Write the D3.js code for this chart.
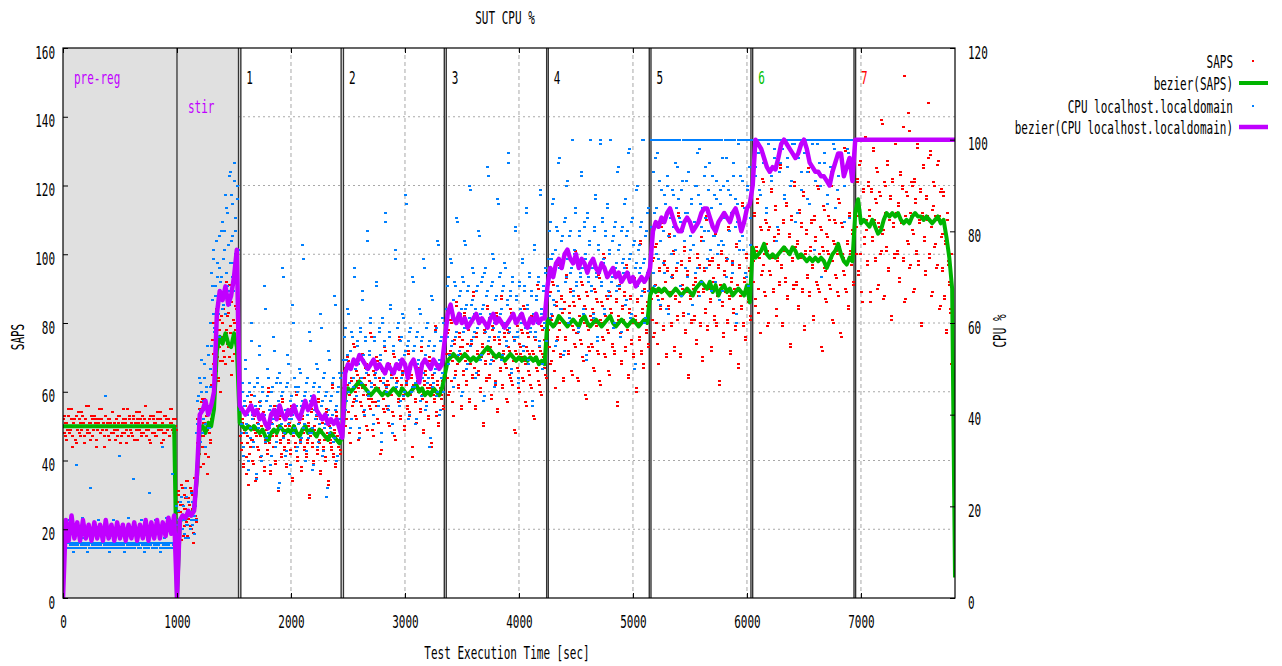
<!DOCTYPE html>
<html><head><meta charset="utf-8">
<script src="https://cdn.jsdelivr.net/npm/d3@7"></script>
<style>
body{margin:0;background:#fff;}
svg text{font-family:"DejaVu Sans Mono",monospace;font-size:11px;}
</style></head><body>
<svg id="chart" width="1282" height="666"></svg>
<script>
// ---------- DATA ----------
const chartTitle = "SUT CPU %";
const xTicks = [0,1000,2000,3000,4000,5000,6000,7000];
const sapsTicks = [0,20,40,60,80,100,120,140,160];
const cpuTicks = [0,20,40,60,80,100,120];
const legendLabels = ["SAPS","bezier(SAPS)","CPU localhost.localdomain","bezier(CPU localhost.localdomain)"];
const phaseNames = ["pre-reg","stir","1","2","3","4","5","6","7"];
const phaseSpan = [[0,1000],[1000,1540],[1560,2440],[2460,3345],[3362,4243],[4257,5143],[5158,6035],[6050,6939],[6953,7800]];
const shadedPhases = [[0,1540]];
const phaseLines = [1540,1560,2440,2460,3345,3362,4243,4257,5143,5158,6035,6050,6939,6953];
const bezierStart = [0,1000,1550,2475,3375,4250,5150,6050,6950];
const bezierStep = 25;
const bezierSaps = [
 [50,50,50,50,50,50,50,50,50,50,50,50,50,50,50,50,50,50,50,50,50,50,50,50,50,50,50,50,50,50,50,50,50,50,50,50,50,50,50,50],
 [0,22,24,23,25,24,26,35,49,50,48,51,50,55,72,76,74,77,74,73,77,73],
 [51,50,49,50,49,50,49,48,49,47,46,48,49,48,50,49,48,49,48,50,48,47,49,50,48,49,48,47,49,48,47,46,48,47,46,45,47],
 [59,61,60,61,62,63,62,61,60,59,60,61,60,59,60,59,60,61,60,59,61,60,59,60,61,62,60,61,59,60,59,61,60,59,61],
 [69,70,71,70,69,70,71,70,69,70,69,70,71,72,73,72,71,70,71,70,69,70,71,70,69,70,69,70,69,70,69,70,68,69,68],
 [81,80,79,80,82,81,80,79,80,81,80,79,81,82,80,79,80,81,80,79,80,81,82,80,79,80,81,80,79,80,81,80,79,80,81,80],
 [88,90,89,90,89,90,89,88,89,90,89,88,89,90,89,88,90,91,92,91,90,92,89,91,88,90,91,89,90,88,89,90,89,88,91,86],
 [102,99,100,101,103,100,99,100,99,100,101,102,101,100,102,101,99,100,99,98,99,98,99,98,99,98,96,98,100,101,103,100,98,97,99,98],
 [112,116,109,110,109,108,110,108,106,107,110,112,111,112,111,112,110,109,110,109,111,112,111,111,110,111,110,109,110,111,109,110,105,99,90,6]
];
const bezierCpu = [
 [0,17,12.5,18,13,16.5,12.5,17,13,16,12.5,16.5,13,16,12.5,17,13,16,12.5,16.5,13,16,12.5,16,13,16.5,12.5,16,13,17,12.5,16.5,13,17,13,16.5,13.5,17.5,14,18],
 [0,17,18,17.5,19,18,19,27,40,41,43,40,42,45,62,67,65,68,64,66,70,76],
 [42,41,40,41,42,40,41,39,40,38,37,40,41,39,42,40,39,41,40,42,40,39,41,43,41,42,44,41,40,39,40,38,39,38,39,37,35],
 [49,51,50,52,51,53,52,51,50,51,52,50,51,50,49,51,50,49,51,50,52,51,48,51,52,50,47,51,52,51,50,52,51,50,51],
 [62,64,61,60,62,60,61,59,60,61,62,60,61,60,59,61,62,60,61,60,59,60,61,62,60,61,62,60,59,61,60,62,60,61,61],
 [68,72,70,73,74,72,75,76,74,73,75,72,74,73,71,73,74,72,71,73,72,70,71,72,70,71,69,70,71,69,70,68,69,70,69,70],
 [72,80,82,81,83,82,84,85,83,81,80,80,82,83,82,80,81,82,84,85,85,83,81,80,82,83,84,83,82,84,85,83,80,82,85,86],
 [90,100,99,98,96,94,93,94,93.5,96,99,100,99,98,97,96,97,99,100,98,95,94,93,93,92,92,91,90,93,95,97,97,92,94,96,91],
 [100,100,100,100,100,100,100,100,100,100,100,100,100,100,100,100,100,100,100,100,100,100,100,100,100,100,100,100,100,100,100,100,100,100,100,100]
];
const sapsPoints = [
 [52,48,51,46,53,50,49,55,47,51,52,45,50,54,48,51,49,53,47,52,56,48,50,51,46,52,49,53,51,44,50,52,48,55,49,51,47,53,50,52,46,51,48,54,50,49,52,47,51,53,45,50,48,52,51,49,55,47,52,50,48,53,46,51,49,52,50,54,47,51,48,52,56,49,51,46,53,50,48,52,51,47,54,49,50,52,45,51,48,53,50,49,52,47,55,51,48,50,52,49],
 [28,22,31,19,25,33,17,27,24,30,21,26,34,18,29,23,27,32,20,25,30,16,28,35,24,22,40,52,46,55,38,49,57,44,51,47,58,42,53,50,36,55,48,45,56,62,75,68,80,58,72,66,84,70,64,78,73,60,82,69,80,72,88,68,77,92,74,83,70,86,79,65,90,75,81,71,95,78,84,73,87],
 [45,52,38,49,56,41,47,33,50,44,59,46,39,53,48,35,51,43,57,47,40,49,54,37,46,50,42,61,45,36,52,48,44,55,39,47,50,31,53,45,41,58,48,43,49,38,54,46,51,42,56,34,47,50,44,60,40,48,52,45,37,53,49,43,57,41,46,51,29,48,55,44,39,50,47,53,42,58,45,36,49,52,43,47,40,55,48,33,51,46,44,62,41,49,38,54,47,45,50,42],
 [58,66,50,61,70,54,59,45,63,57,73,60,52,65,61,48,64,56,71,59,53,62,68,49,58,63,55,76,57,47,65,61,56,69,51,60,63,43,66,58,54,72,61,55,62,50,67,59,64,53,70,46,60,63,57,75,52,61,65,58,49,66,62,55,71,53,59,64,41,61,68,57,51,63,60,66,54,72,58,48,62,65,56,60,52,69,61,44,64,59,57,78,53,62,50,67,60,58,63,55],
 [68,77,59,71,81,63,69,53,74,66,85,70,61,76,71,56,75,65,83,69,62,72,79,57,68,74,64,88,67,55,76,71,65,80,60,70,73,50,77,68,63,84,71,64,72,58,78,69,75,62,82,54,70,74,66,87,61,71,76,67,57,77,72,64,83,62,69,75,48,71,79,66,60,73,70,77,63,84,68,56,72,76,65,70,61,81,71,52,75,69,66,90,62,72,59,78,70,67,74,64],
 [78,88,68,81,92,72,79,61,85,76,97,80,70,87,81,64,86,75,94,79,71,83,90,65,78,85,73,100,77,63,87,81,74,91,69,80,84,58,88,78,72,96,81,73,83,66,89,79,86,71,93,62,80,85,75,99,70,81,87,77,65,88,83,73,95,71,79,86,56,81,90,76,68,84,80,88,72,96,78,64,83,87,74,80,70,92,81,60,86,79,75,103,71,83,67,89,80,77,85,73],
 [87,98,76,90,102,80,88,68,95,85,108,89,78,97,90,71,96,84,105,88,79,93,100,72,87,95,81,111,86,70,97,90,82,101,77,89,94,64,98,87,80,107,90,81,92,74,99,88,96,79,104,69,89,95,83,110,78,90,97,86,72,98,92,81,106,79,88,96,62,90,100,85,76,94,89,98,80,107,87,71,92,97,83,89,78,102,90,67,96,88,84,114,79,92,75,99,89,86,95,81],
 [98,111,85,101,115,90,99,77,107,95,121,100,88,109,101,80,108,94,118,99,89,104,113,82,98,106,91,125,97,79,109,101,92,114,87,100,105,73,110,98,90,120,101,91,103,84,112,99,108,89,117,78,100,106,93,124,88,101,109,96,81,110,104,91,119,89,99,107,72,101,113,95,86,105,100,110,90,120,98,80,103,109,93,100,88,115,101,76,108,99,94,130,89,103,84,111,100,97,106,91],
 [108,121,95,111,126,100,109,86,118,105,133,110,98,120,111,89,119,104,130,109,99,115,124,91,108,117,101,138,107,88,120,111,102,126,96,110,116,82,121,108,100,132,111,101,114,93,123,109,119,99,152,87,110,117,103,136,97,111,120,106,90,121,115,101,131,98,109,118,80,111,125,105,95,116,110,144,100,129,108,89,114,120,103,110,97,127,111,85,119,106,96,118,88,104,78,112,98,92,84,100]
];
const sapsPoints2 = [
 [50,53,47,51,49,55,48,52,44,51,50,46,53,49,52,47,54,50,51,45,52,49,56,48,51,53,47,50,52,46,49,51,55,48,52,50,44,53,49,51,47,52,50,54,48,51,46,52,49,53,50,47,51,55,48,52,45,50,53,49,51,47,52,50,54,46,51,49,52,48,53,50,56,47,51,49,52,45,50,53,48,51,47,52,50,54,49,51,46,53,48,52,50,47,51,55,49,52,44,50],
 [25,30,20,27,23,32,18,26,29,22,34,24,27,21,31,26,19,28,33,23,45,50,42,53,47,58,39,51,44,55,49,41,54,46,52,65,71,60,77,67,74,63,81,69,76,75,84,70,89,78,82,73,91,77,86,69,93,80,85,72,88],
 [47,43,51,39,48,54,36,45,50,42,57,46,40,52,49,34,47,44,55,48,41,50,53,38,45,49,43,60,46,37,51,47,44,56,40,48,49,32,52,46,42,57,47,44,50,39,53,45,50,43,55,35,48,49,45,59,41,47,51,46,38,52,48,44,56,42,45,50,30,47,54,45,40,49,48,52,43,57,46,37,48,51,44,46,41,54,47,34,50,45,43,61,42,48,39,53,46,44,49,43],
 [61,55,67,52,62,69,48,60,64,56,74,58,53,66,63,46,62,57,70,61,54,64,67,50,59,65,56,77,58,49,66,62,57,70,52,61,64,42,67,59,55,73,62,56,63,51,68,60,65,54,71,47,61,64,58,76,53,62,66,59,50,67,63,56,72,54,60,65,44,62,69,58,52,64,61,67,55,73,59,49,63,66,57,61,53,70,62,45,65,60,58,79,54,63,51,68,61,59,64,56],
 [71,64,78,60,72,80,57,70,75,65,86,68,62,77,73,55,73,66,82,70,63,74,78,58,69,75,65,89,67,56,77,72,66,81,61,71,74,51,78,69,64,85,72,65,73,59,79,70,76,63,83,55,71,75,67,88,62,72,77,68,58,78,73,65,84,63,70,76,49,72,80,67,61,74,71,78,64,85,69,57,73,77,66,71,62,82,72,53,76,70,67,91,63,73,60,79,71,68,75,65],
 [81,73,89,69,82,91,66,80,86,75,98,78,71,88,83,63,84,76,93,80,72,85,89,66,79,86,74,101,77,64,88,82,75,92,70,81,85,59,89,79,73,97,82,74,84,67,90,80,87,72,94,63,81,86,76,100,71,82,88,78,66,89,84,74,96,72,80,87,57,82,91,77,69,85,81,89,73,97,79,65,84,88,75,81,71,93,82,61,87,80,76,104,72,84,68,90,81,78,86,74],
 [90,81,99,77,91,103,74,89,96,84,109,87,79,98,92,70,95,85,106,89,80,94,101,73,88,96,82,112,86,71,98,91,83,102,78,90,95,65,99,88,81,108,91,82,93,75,100,89,97,80,105,70,90,96,84,111,79,91,98,87,73,99,93,82,107,80,89,97,63,91,101,86,77,95,90,99,81,108,88,72,93,98,84,90,79,103,91,68,97,89,85,115,80,93,76,100,90,87,96,82],
 [101,92,112,87,102,116,83,100,108,94,122,97,89,110,103,79,107,95,119,100,90,105,114,84,99,107,92,126,96,80,110,102,93,115,88,101,106,74,111,99,91,121,102,92,104,85,113,100,109,90,118,79,101,107,94,125,89,102,110,97,82,111,105,92,120,90,100,108,73,102,114,96,87,106,101,111,91,121,99,81,104,110,94,101,89,116,102,77,109,100,95,131,90,104,85,112,101,98,107,92],
 [111,100,122,94,112,127,89,110,119,103,134,107,97,121,113,86,118,105,131,110,98,116,125,90,109,118,100,139,106,87,121,112,101,127,95,111,117,81,122,109,99,133,112,100,115,92,124,110,120,98,137,86,111,118,104,141,96,112,121,107,89,122,116,100,132,97,110,119,79,112,126,104,94,117,111,128,99,130,109,88,113,121,102,111,96,126,110,84,118,105,95,117,87,103,77,110,97,91,83,68]
];
const cpuPoints = [
 [11.5,12,11.5,11,12,17,11.5,12,11.5,10,12,11.5,29,11.5,12,11,11.5,17.5,12,11.5,12,11.5,10,11.5,12,24,11.5,12,11.5,11,12,11.5,17,12,11.5,12,11,11.5,44,12,11.5,12,10,11.5,12,11.5,17,11.5,12,11,11.5,31,12,11.5,12,11.5,10,12,11.5,17.5,11.5,12,11,11.5,26,12,11.5,12,11.5,11,12,17,11.5,12,10,11.5,12,11.5,23,11.5,12,11,12,11.5,17,11.5,12,11.5,10,12,33,11.5,12,11.5,17.5,12,11.5,11,12,27,11.5,17,12,20],
 [14,17,19,13,16,22,15,18,20,14,17,24,16,19,13,21,18,15,17,23,16,20,14,18,25,17,30,38,44,35,47,41,52,36,43,39,48,33,45,40,55,37,42,46,50,55,68,62,74,58,66,78,60,70,64,72,57,69,80,63,66,74,80,62,71,85,68,77,92,64,73,88,70,79,67,95,75,83,69,90,76],
 [38,45,31,42,52,36,40,28,47,35,60,39,33,44,41,26,48,37,55,42,30,46,39,68,34,43,50,36,41,29,45,38,57,40,33,47,42,24,49,37,44,72,35,40,31,46,53,38,27,43,39,64,36,48,41,32,45,38,50,34,42,77,37,44,30,47,40,35,58,43,36,28,46,41,39,51,33,45,38,62,42,31,48,37,44,22,40,54,36,43,39,47,34,66,41,30,45,38,49,35],
 [49,57,41,52,63,45,50,37,58,46,72,50,43,55,51,35,59,47,67,52,40,56,49,80,44,53,61,46,51,38,56,48,69,50,42,58,52,34,60,47,55,84,45,50,41,57,64,48,36,54,49,76,46,59,51,42,56,48,62,44,53,88,47,55,39,58,50,45,70,54,46,38,57,51,49,63,43,56,48,74,52,41,59,47,55,33,50,66,46,54,49,58,44,78,51,40,56,48,61,45],
 [60,68,51,63,74,55,61,46,69,57,83,61,53,66,62,44,70,58,78,63,50,67,60,90,55,64,72,57,62,48,67,59,80,61,52,69,63,43,71,58,66,94,56,61,51,68,75,59,46,65,60,87,57,70,62,52,67,59,73,55,64,97,58,66,49,69,61,56,81,65,57,47,68,62,60,74,54,67,59,85,63,51,70,58,66,42,61,77,57,65,60,69,55,89,62,50,67,59,72,56],
 [71,80,61,74,86,65,72,55,81,68,95,72,63,78,73,53,82,69,90,74,60,79,71,100,66,75,84,68,73,58,79,70,92,72,62,81,74,52,83,69,77,100,67,72,61,80,87,70,56,76,71,99,68,82,73,62,79,70,85,66,75,100,69,78,59,81,72,67,93,76,68,57,80,73,71,86,64,79,70,97,74,61,82,69,77,50,72,89,68,76,71,81,66,100,73,60,79,70,84,67],
 [81,100,71,84,96,75,100,65,91,78,100,82,73,88,100,63,92,79,100,84,70,89,81,100,76,85,94,100,83,68,89,80,100,82,72,91,84,62,100,79,87,100,77,82,71,90,97,100,66,86,81,100,78,92,83,72,100,80,95,76,85,100,79,88,69,91,100,77,100,86,78,67,90,83,100,96,74,89,80,100,84,71,92,100,87,60,82,99,78,100,81,91,76,100,83,70,89,100,94,77],
 [100,100,92,100,100,97,100,88,100,100,95,100,100,84,100,99,100,100,91,100,100,96,100,78,100,100,93,100,100,98,100,87,100,100,94,100,100,90,100,99,100,100,82,100,100,96,100,100,89,100,100,97,100,100,93,100,86,100,100,99,100,100,91,100,100,95,100,70,100,100,97,100,100,88,100,100,94,100,100,99,100,85,100,100,92,100,100,96,100,100,90,100,100,98,100,83,100,100,95,100],
 [100,100,100,100,100,100,100,100,100,100,100,100,100,100,100,100,100,100,100,100,100,100,100,100,100,100,100,100,100,100]
];
const cpuPoints2 = [
 [12,11,12,11,12,12,11,12,11,12,11,12,12,11,12,11,12,13,11,12,11,12,12,11,12,11,12,11,12,12,11,12,11,12,11,12,12,11,12,11,12,13,11,12,11,12,12,11,12,11,12,11,12,12,11,12,11,12,11,12,12,11,12,11,12,13,11,12,11,12,12,11,12,11,12,11,12,12,11,12,11,12,11,12,12,11,12,11,12,13,11,12,11,12,12,11,12,11,12,11],
 [16,19,14,21,17,15,20,18,13,22,16,19,15,18,21,17,14,20,36,43,39,48,34,45,41,51,38,46,42,53,37,60,71,65,76,59,68,73,62,79,66,70,82,64,76,88,71,84,67,93,78,86,73,91,80,69,87],
 [41,36,47,33,43,50,38,44,30,45,37,56,40,34,46,42,27,47,38,53,43,31,45,40,63,35,44,48,37,42,31,46,39,54,41,34,48,43,25,47,38,45,70,36,41,32,47,51,39,29,44,40,60,37,46,42,33,46,39,49,35,43,74,38,45,32,48,41,36,56,44,37,29,47,42,40,50,34,46,39,59,43,32,49,38,45,24,41,52,37,44,40,48,35,64,42,31,46,39,48],
 [52,46,59,43,53,62,47,54,39,57,48,70,51,44,56,52,37,58,48,65,53,41,57,50,78,45,54,60,47,52,40,57,49,68,51,43,59,53,36,61,48,56,82,46,51,42,58,63,49,38,55,50,74,47,60,52,43,57,49,61,45,54,86,48,56,40,59,51,46,69,55,47,39,58,52,50,62,44,57,49,72,53,42,60,48,56,35,51,65,47,55,50,59,45,77,52,41,57,49,60],
 [63,57,70,53,64,73,56,65,48,68,58,82,62,54,67,63,45,69,59,77,64,51,68,61,89,56,65,71,58,63,49,68,60,79,62,53,70,64,44,72,59,67,92,57,62,52,69,74,60,47,66,61,86,58,71,63,53,68,60,72,56,65,95,59,67,50,70,62,57,80,66,58,48,69,63,61,73,55,68,60,84,64,52,71,59,67,43,62,76,58,66,61,70,56,88,63,51,68,60,71],
 [74,66,82,62,75,87,64,76,56,80,67,96,73,63,79,74,54,83,70,91,75,61,80,72,100,67,76,85,69,74,59,80,71,93,73,63,82,75,53,84,70,78,100,68,73,62,81,88,71,57,77,72,100,69,83,74,63,80,71,86,67,76,100,70,79,60,82,73,68,94,77,69,58,81,74,72,87,65,80,71,98,75,62,83,70,78,51,73,90,69,77,72,82,67,100,74,61,80,71,85],
 [100,77,93,68,100,85,97,74,100,64,89,100,80,71,86,100,90,62,100,83,75,100,88,79,95,100,73,87,100,82,66,91,100,78,84,100,70,93,100,76,86,64,100,81,90,100,72,88,98,100,69,85,100,80,94,100,74,89,100,83,67,92,100,79,100,87,75,100,65,89,100,96,77,84,100,70,91,100,82,88,100,73,95,100,81,62,86,100,76,92,100,79,100,85,71,100,90,68,100,83],
 [100,100,100,94,100,100,100,89,100,100,97,100,100,100,85,100,100,100,92,100,100,98,100,100,81,100,100,95,100,100,100,88,100,100,96,100,100,100,91,100,100,99,100,100,84,100,100,100,93,100,100,97,100,100,87,100,100,100,94,100,100,76,100,100,99,100,100,90,100,100,100,95,100,100,86,100,100,100,93,100,100,98,100,100,89,100,100,100,96,100,100,82,100,100,97,100,100,100,92,100],
 []
];

// ---------- STYLE ----------
const C = {saps:"#ff0000", bezSaps:"#00b400", cpu:"#0080ff", bezCpu:"#c000ff", shade:"#e0e0e0", grid:"#a8a8a8"};
const phaseColors = ["#c000ff","#c000ff","#000","#000","#000","#000","#000","#00c000","#ff0000"];
const SY = 1.55;

const svg = d3.select("#chart");
const L=63, R=955, T=48, B=598;
const x = d3.scaleLinear().domain([0,7825]).range([L,R]);
const yL = d3.scaleLinear().domain([0,160]).range([B,T]);
const yR = d3.scaleLinear().domain([0,120]).range([B,T]);

svg.append("defs").append("clipPath").attr("id","clip")
  .append("rect").attr("x",L).attr("y",T).attr("width",R-L).attr("height",B-T);

function txt(xp, yp, s, anchor, color, rot){
  svg.append("text")
    .attr("transform",`translate(${xp},${yp})${rot?` rotate(${rot})`:""} scale(1,${SY})`)
    .attr("text-anchor",anchor||"start").attr("fill",color||"#000").text(s);
}

// grid
svg.append("g").selectAll("line").data(sapsTicks.filter(v=>v>0&&v<160)).join("line")
  .attr("x1",L).attr("x2",R).attr("y1",d=>yL(d)).attr("y2",d=>yL(d))
  .attr("stroke",C.grid).attr("stroke-dasharray","2,3");
svg.append("g").selectAll("line").data(xTicks.filter(v=>v>0)).join("line")
  .attr("x1",d=>x(d)).attr("x2",d=>x(d)).attr("y1",T).attr("y2",B)
  .attr("stroke",C.grid).attr("stroke-dasharray","4,3");

// shaded phases
svg.append("g").selectAll("rect").data(shadedPhases).join("rect")
  .attr("x",d=>x(d[0])).attr("y",T).attr("width",d=>x(d[1])-x(d[0])).attr("height",B-T)
  .attr("fill",C.shade);

// phase lines
svg.append("line").attr("x1",x(1000)).attr("x2",x(1000)).attr("y1",T).attr("y2",B).attr("stroke","#000");
svg.append("g").selectAll("line").data(phaseLines).join("line")
  .attr("x1",d=>x(d)).attr("x2",d=>x(d)).attr("y1",T).attr("y2",B)
  .attr("stroke","#333").attr("stroke-width",1.4);

// scatter builder: samples evenly spread over each phase
function pts(arr, off){
  const out=[];
  arr.forEach((vals,k)=>{
    const [a,b]=phaseSpan[k]; const n=vals.length;
    vals.forEach((v,i)=>out.push({t:a+(i+off)*(b-a)/n, v}));
  });
  return out;
}
function bez(arr){
  const out=[];
  arr.forEach((vals,k)=>vals.forEach((v,i)=>out.push({t:bezierStart[k]+i*bezierStep, v})));
  return out;
}
const plot = svg.append("g").attr("clip-path","url(#clip)");

function dots(data, y, color){
  plot.append("g").selectAll("rect").data(data).join("rect")
    .attr("x",d=>x(d.t)-1.5).attr("y",d=>y(d.v)-1).attr("width",3).attr("height",2)
    .attr("fill",color).attr("shape-rendering","crispEdges");
}
dots(pts(sapsPoints,0.5).concat(pts(sapsPoints2,0.1)), yL, C.saps);
plot.append("path").datum(bez(bezierSaps))
  .attr("d",d3.line().x(d=>x(d.t)).y(d=>yL(d.v)))
  .attr("fill","none").attr("stroke",C.bezSaps).attr("stroke-width",4).attr("stroke-linejoin","round");
dots(pts(cpuPoints,0.5).concat(pts(cpuPoints2,0.1)), yR, C.cpu);
plot.append("path").datum(bez(bezierCpu))
  .attr("d",d3.line().x(d=>x(d.t)).y(d=>yR(d.v)))
  .attr("fill","none").attr("stroke",C.bezCpu).attr("stroke-width",4.5).attr("stroke-linejoin","round");

// border
svg.append("rect").attr("x",L).attr("y",T).attr("width",R-L).attr("height",B-T)
  .attr("fill","none").attr("stroke","#000").attr("stroke-width",1.2);

// axes
function styleAxis(g){
  g.select(".domain").remove();
  g.attr("font-family",null).attr("font-size",null);
  g.selectAll(".tick line").attr("stroke","#000");
}
const fmt = d3.format("d");
const gB = svg.append("g").attr("transform",`translate(0,${B})`)
  .call(d3.axisBottom(x).tickValues(xTicks).tickFormat(fmt).tickSizeInner(-5).tickSizeOuter(0)).call(styleAxis);
gB.selectAll(".tick text").attr("y",19.2).attr("dy",0).attr("transform",`scale(1,${SY})`);
svg.append("g").attr("transform",`translate(0,${T})`)
  .call(d3.axisTop(x).tickValues(xTicks).tickSizeInner(-5).tickSizeOuter(0).tickFormat(""))
  .call(styleAxis);
const gL = svg.append("g").attr("transform",`translate(${L},0)`)
  .call(d3.axisLeft(yL).tickValues(sapsTicks).tickFormat(fmt).tickSizeInner(-5).tickSizeOuter(0).tickPadding(8)).call(styleAxis);
gL.selectAll(".tick text").attr("dy",0).attr("y",6.6).attr("transform",`scale(1,${SY})`);
const gR = svg.append("g").attr("transform",`translate(${R},0)`)
  .call(d3.axisRight(yR).tickValues(cpuTicks).tickFormat(fmt).tickSizeInner(-5).tickSizeOuter(0).tickPadding(13)).call(styleAxis);
gR.selectAll(".tick text").attr("dy",0).attr("y",6.6).attr("transform",`scale(1,${SY})`);

// titles
txt(505, 24, chartTitle, "middle");
txt(507, 659, "Test Execution Time [sec]", "middle");
txt(24, 337, "SAPS", "middle", "#000", -90);
txt(1006, 331, "CPU %", "middle", "#000", -90);

// phase labels
const labelPos = [[x(0)+11,84],[x(1000)+11,113]];
phaseNames.forEach((n,i)=>{
  const p = i<2 ? labelPos[i] : [x(phaseSpan[i][0])+5.5, 84];
  txt(p[0], p[1], n, "start", phaseColors[i]);
});

// legend
const legY = [61,83,106,127];
legendLabels.forEach((s,i)=>{
  txt(1233, legY[i]+6.5, s, "end");
});
svg.append("rect").attr("x",1252).attr("y",legY[0]-1).attr("width",2).attr("height",2).attr("fill",C.saps);
svg.append("line").attr("x1",1239).attr("x2",1268).attr("y1",legY[1]).attr("y2",legY[1]).attr("stroke",C.bezSaps).attr("stroke-width",4);
svg.append("rect").attr("x",1252).attr("y",legY[2]-1).attr("width",2).attr("height",2).attr("fill",C.cpu);
svg.append("line").attr("x1",1239).attr("x2",1268).attr("y1",legY[3]).attr("y2",legY[3]).attr("stroke",C.bezCpu).attr("stroke-width",4.5);
</script>
</body></html>
